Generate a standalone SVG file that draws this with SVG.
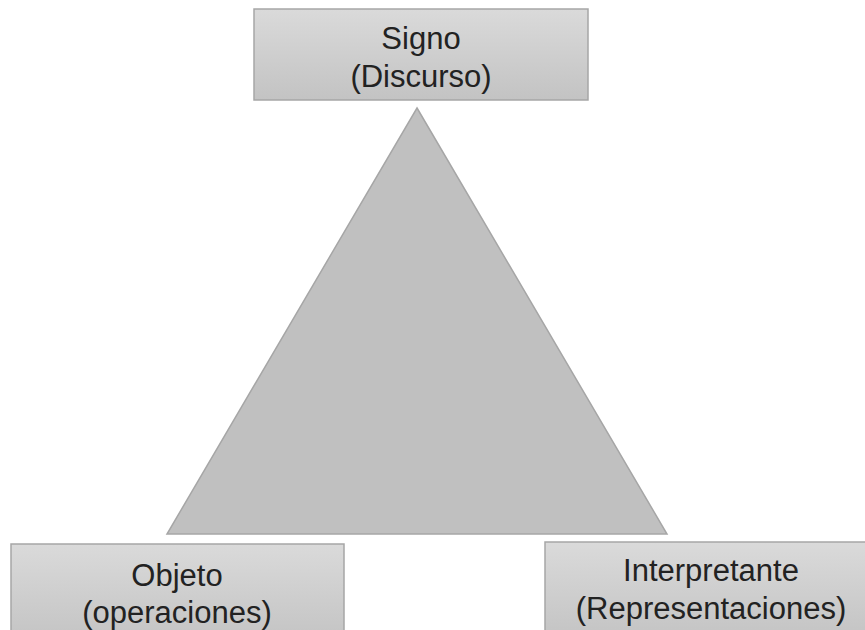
<svg xmlns="http://www.w3.org/2000/svg" width="865" height="630" viewBox="0 0 865 630">
  <defs>
    <linearGradient id="boxFill" x1="0" y1="0" x2="0" y2="1">
      <stop offset="0" stop-color="#dadada"/>
      <stop offset="1" stop-color="#c3c3c3"/>
    </linearGradient>
    <style>
      .box { fill: url(#boxFill); stroke: #a6a6a6; stroke-width: 1.5; }
      .tri { fill: #c0c0c0; stroke: #a6a6a6; stroke-width: 1.5; }
      .label { font-family: "Liberation Sans", Arial, sans-serif; font-size: 31px; fill: #222222; text-anchor: middle; }
    </style>
  </defs>
  <rect width="865" height="630" fill="#ffffff"/>

  <g id="connectors">
    <polygon class="tri" points="417,108 667,534 167,534"/>
  </g>

  <g id="signo">
    <rect class="box" x="254" y="9" width="334" height="91"/>
    <text class="label" x="421" y="49">Signo</text>
    <text class="label" x="421" y="87">(Discurso)</text>
  </g>

  <g id="objeto">
    <rect class="box" x="11" y="544" width="333" height="100"/>
    <text class="label" x="177" y="586">Objeto</text>
    <text class="label" x="177" y="623">(operaciones)</text>
  </g>

  <g id="interpretante">
    <rect class="box" x="545" y="542" width="333" height="100"/>
    <text class="label" x="711" y="581">Interpretante</text>
    <text class="label" x="711" y="619">(Representaciones)</text>
  </g>
</svg>
